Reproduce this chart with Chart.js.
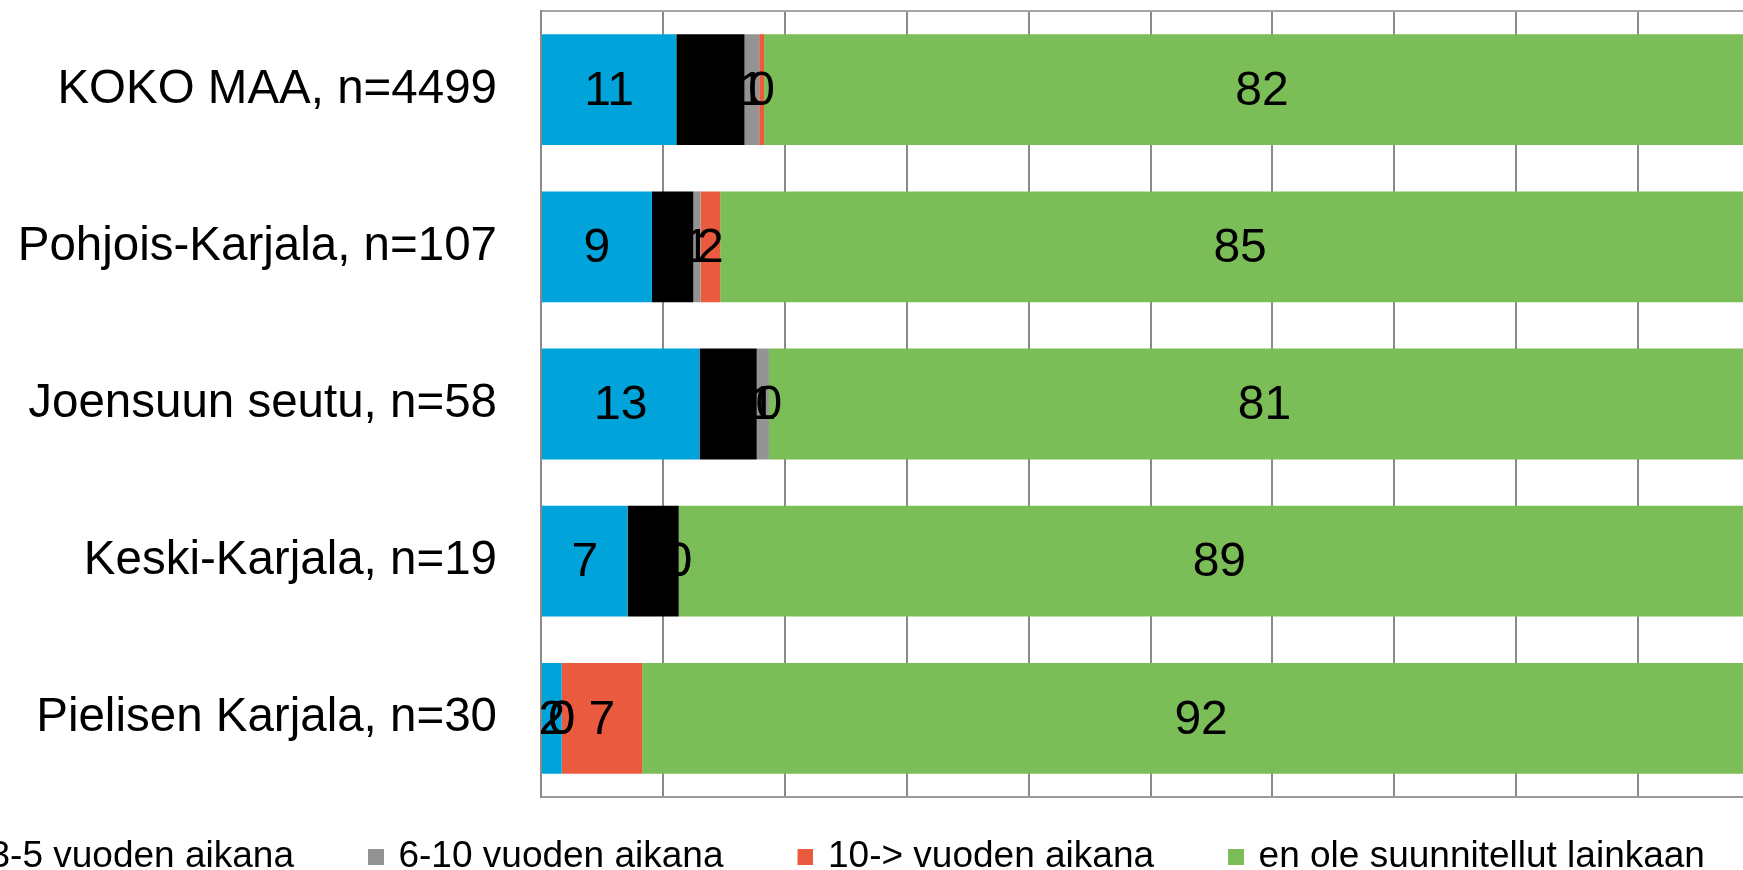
<!DOCTYPE html>
<html>
<head>
<meta charset="utf-8">
<script src="https://cdn.jsdelivr.net/npm/chart.js@4/dist/chart.umd.min.js"></script>
<style>
html, body { margin: 0; padding: 0; background: #ffffff; overflow: hidden; width: 1743px; height: 870px; }
#wrap { position: absolute; left: -553px; top: 0; width: 2313px; height: 885px; }
</style>
</head>
<body>
<div id="wrap"><canvas id="c" width="2313" height="885" style="width:2313px;height:885px"></canvas></div>
<script>
const categories = ['KOKO MAA, n=4499', 'Pohjois-Karjala, n=107', 'Joensuun seutu, n=58', 'Keski-Karjala, n=19', 'Pielisen Karjala, n=30'];
const seriesNames = ['1-2 vuoden aikana', '3-5 vuoden aikana', '6-10 vuoden aikana', '10-> vuoden aikana', 'en ole suunnitellut lainkaan'];
const s12 = [11.1, 9.1, 13.0, 7.1, 1.7];
const s35 = [5.6, 3.4, 4.7, 4.2, 0];
const s610 = [1.2, 0.6, 1.0, 0, 0];
const s10plus = [0.4, 1.6, 0, 0, 6.6];
const sNever = [81.7, 85.3, 81.3, 88.7, 91.7];
const seriesColors = ['#00A4DA', '#000000', '#939393', '#EA5A3F', '#7BBD57'];
const xTicks = [0, 10, 20, 30, 40, 50, 60, 70, 80, 90, 100];

const FONT = '"Liberation Sans", Arial, sans-serif';
Chart.defaults.font.family = FONT;
Chart.defaults.color = '#000000';

function markerCanvas(color) {
  const c = document.createElement('canvas');
  c.width = 68; c.height = 16;
  const g = c.getContext('2d');
  g.fillStyle = color;
  g.fillRect(52, 0, 16, 16);
  return c;
}
const markers = seriesColors.map(markerCanvas);

const barLabels = {
  id: 'barLabels',
  afterDatasetsDraw(chart) {
    const ctx = chart.ctx;
    ctx.save();
    ctx.font = '48px ' + FONT;
    ctx.fillStyle = '#000000';
    ctx.textAlign = 'center';
    ctx.textBaseline = 'middle';
    chart.data.datasets.forEach((ds, di) => {
      const meta = chart.getDatasetMeta(di);
      meta.data.forEach((bar, i) => {
        const p = bar.getProps(['x', 'y', 'base'], true);
        ctx.fillText(String(Math.round(ds.data[i])), (p.x + p.base) / 2, p.y + 2);
      });
    });
    ctx.restore();
  }
};

const allSeries = [s12, s35, s610, s10plus, sNever];
const datasets = allSeries.map((d, i) => ({
  label: seriesNames[i],
  data: d,
  backgroundColor: seriesColors[i],
  borderWidth: 0,
  barPercentage: 0.705,
  categoryPercentage: 1.0
}));

new Chart(document.getElementById('c'), {
  type: 'bar',
  data: { labels: categories, datasets: datasets },
  plugins: [barLabels],
  options: {
    indexAxis: 'y',
    responsive: false,
    animation: false,
    devicePixelRatio: 1,
    layout: { padding: { top: 11, left: 0, right: 0, bottom: 0 } },
    scales: {
      x: {
        stacked: true,
        min: xTicks[0],
        max: xTicks[xTicks.length - 1],
        afterBuildTicks: (scale) => { scale.ticks = xTicks.map(v => ({ value: v })); },
        afterFit: (scale) => { scale.height = 15; scale.paddingLeft = 0; scale.paddingRight = 0; },
        ticks: { display: false },
        grid: { color: '#8a8a8a', lineWidth: 2, drawTicks: false },
        border: { display: true, color: '#9a9a9a', width: 2 }
      },
      y: {
        stacked: true,
        afterFit: (scale) => { scale.width = 1094; scale.paddingTop = 0; scale.paddingBottom = 0; },
        ticks: { font: { size: 47.5 }, color: '#000000', padding: 44 },
        grid: {
          drawTicks: false,
          lineWidth: 2,
          color: (ctx) => ctx.index === 0 ? '#a6a6a6' : 'rgba(0,0,0,0)'
        },
        border: { display: true, color: '#8a8a8a', width: 2 }
      }
    },
    plugins: {
      tooltip: { enabled: false },
      legend: {
        position: 'bottom',
        labels: {
          usePointStyle: true,
          pointStyleWidth: 60,
          boxHeight: 16,
          padding: 26,
          color: '#000000',
          font: { size: 37 },
          generateLabels: (chart) => {
            const items = Chart.defaults.plugins.legend.labels.generateLabels(chart);
            items.forEach((it, i) => { it.pointStyle = markers[i]; });
            return items;
          }
        }
      }
    }
  }
});
</script>
</body>
</html>
